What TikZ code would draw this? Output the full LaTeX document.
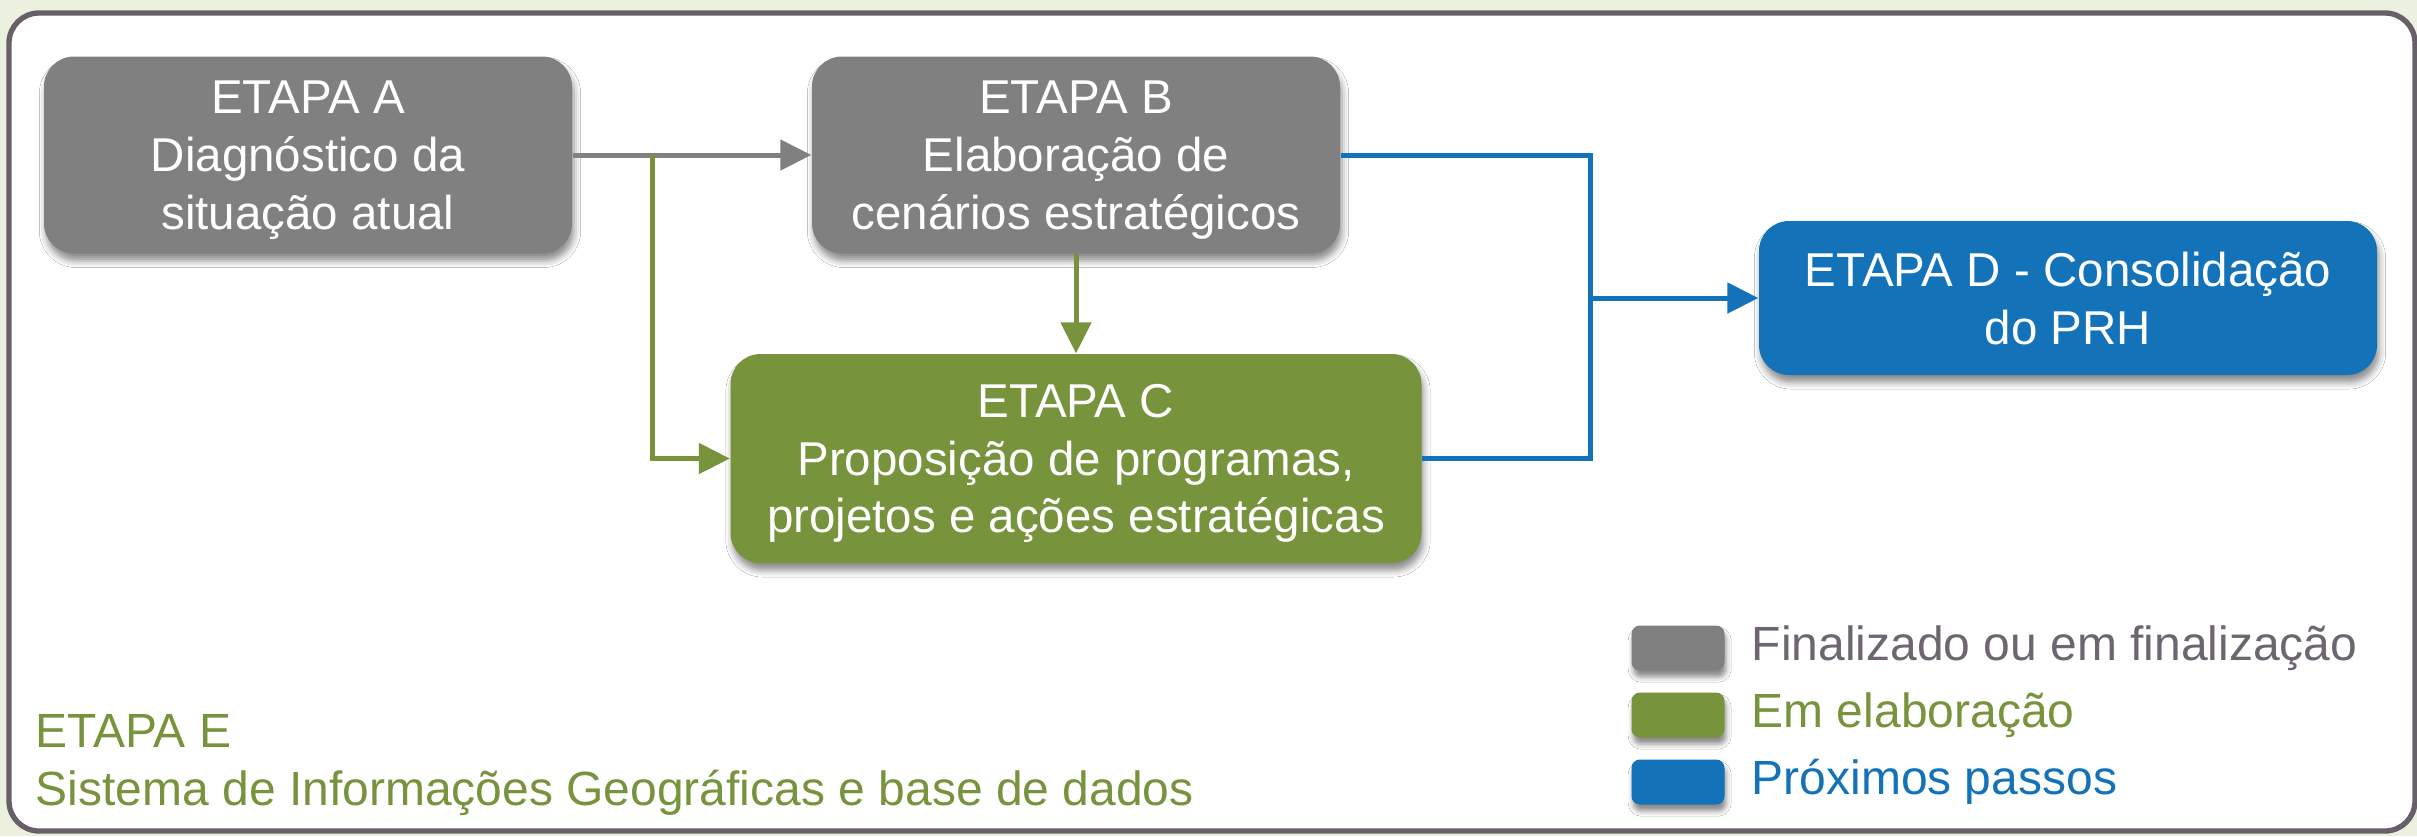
\documentclass[tikz,border=0pt]{standalone}
\usepackage{fontspec}
\setmainfont{Liberation Sans}
\usetikzlibrary{arrows.meta,shadows.blur}
\definecolor{bg}{HTML}{EBF1DE}
\definecolor{framec}{HTML}{686069}
\definecolor{boxgray}{HTML}{808080}
\definecolor{boxgreen}{HTML}{77933C}
\definecolor{boxblue}{HTML}{1372B8}
\definecolor{legtext}{HTML}{6D6570}
\tikzset{
  stagebox/.style={rounded corners=9pt, inner sep=0pt, text=white, align=center,
    font=\fontsize{14.25pt}{17.3pt}\selectfont, text depth=-0.6pt,
    blur shadow={shadow xshift=0.6pt, shadow yshift=-2.2pt, shadow blur radius=2pt, shadow opacity=45}},
  legbox/.style={rounded corners=2.5pt, inner sep=0pt, minimum width=27.9pt, minimum height=13.5pt,
    blur shadow={shadow xshift=0.5pt, shadow yshift=-2pt, shadow blur radius=1.5pt, shadow opacity=45}},
  legtxt/.style={anchor=west, inner sep=0pt, font=\fontsize{14.4pt}{17.3pt}\selectfont},
  conn/.style={line width=1.5pt},
  tip/.style={-{Triangle[length=9.3pt,width=9pt]}}
}
\begin{document}
\begin{tikzpicture}[x=0.3pt,y=-0.3pt]
\fill[bg] (0,0) rectangle (2417,836);
\useasboundingbox (0,0) rectangle (2417,836);
\draw[framec, line width=1.6pt, fill=white, rounded corners=9pt] (9,13) rectangle (2415,831);

\node[stagebox, fill=boxgray, minimum width=158.4pt, minimum height=59.1pt] (A) at (308,155)
  {ETAPA A\\Diagnóstico da\\situação atual};
\node[stagebox, fill=boxgray, minimum width=158.4pt, minimum height=59.1pt] (B) at (1076,155)
  {ETAPA B\\Elaboração de\\cenários estratégicos};
\node[stagebox, fill=boxgreen, minimum width=207.3pt, minimum height=62.7pt] (C) at (1076,458.5)
  {ETAPA C\\Proposição de programas,\\projetos e ações estratégicas};
\node[stagebox, fill=boxblue, minimum width=185.4pt, minimum height=46.2pt] (D) at (2068,298)
  {ETAPA D - Consolidação\\do PRH};

\coordinate (G) at (652,155);
\coordinate (J) at (1590,298);

\draw[conn, boxgray, tip] (A.east) -- (B.west);
\draw[conn, boxgreen, tip] (G) |- (C.west);
\draw[conn, boxgreen, tip] (B.south) -- (C.north);
\draw[conn, boxblue] (B.east) -| (J) |- (C.east);
\draw[conn, boxblue, tip] (J) -- (D.west);

\node[legbox, fill=boxgray] (L1) at (1678,648) {};
\node[legbox, fill=boxgreen] (L2) at (1678,715) {};
\node[legbox, fill=boxblue] (L3) at (1678,782) {};
\node[legtxt, text=legtext] (T1) at (1751,648) {Finalizado ou em finalização};
\node[legtxt, text=boxgreen] (T2) at (1751,715) {Em elaboração};
\node[legtxt, text=boxblue] (T3) at (1751,782) {Próximos passos};

\node[anchor=west, inner sep=0pt, align=left, text=boxgreen,
  font=\fontsize{14.4pt}{17.4pt}\selectfont] (E) at (35,765)
  {ETAPA E\\Sistema de Informações Geográficas e base de dados};
\end{tikzpicture}
\end{document}
